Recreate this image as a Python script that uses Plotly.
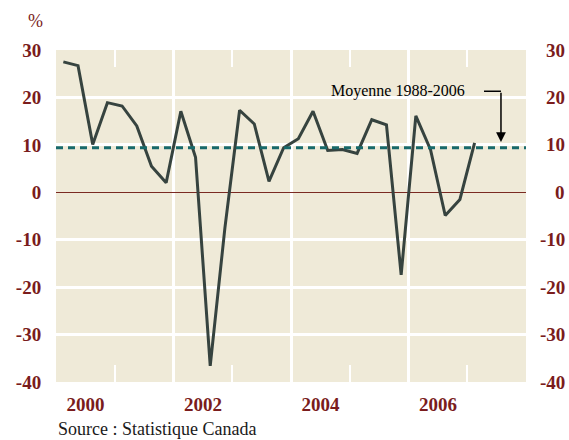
import plotly.graph_objects as go

# ---- data ----
years = [2000]*4 + [2001]*4 + [2002]*4 + [2003]*4 + [2004]*4 + [2005]*4 + [2006]*4 + [2007]
quarters = [1, 2, 3, 4]*7 + [1]
values = [27.5, 26.7, 10.1, 18.9,
          18.2, 14.0, 5.5, 2.0,
          17.1, 7.4, -36.6, -7.5,
          17.3, 14.4, 2.3, 9.4,
          11.3, 17.1, 8.8, 9.0,
          8.2, 15.3, 14.2, -17.4,
          16.1, 9.0, -4.9, -1.5,
          10.4]
mean_value = 9.4
mean_label = "Moyenne 1988-2006"
x_label_years = [2000, 2002, 2004, 2006]
x_grid_years = [2002, 2004, 2006]
x_minor_years = [2001, 2003, 2005, 2007]
y_ticks = [-40, -30, -20, -10, 0, 10, 20, 30]
y_ticktext = ["-40", "-30", "-20", "-10", "0", "10", "20", "30"]
source_text = "Source : Statistique Canada"

x_pos = [y + (q - 0.5) / 4 for y, q in zip(years, quarters)]

RED = "#7a1c1c"
BG = "#efead8"
FONT = "Liberation Serif"
XR = [2000, 2008]
YR = [-40, 30]
W, H = 569, 440
ML, MR, MT, MB = 56, 43, 50, 58
PW, PH = W - ML - MR, H - MT - MB

fig = go.Figure()
# invisible trace to anchor xaxis3 gridlines
fig.add_trace(go.Scatter(x=[None], y=[None], xaxis="x3", yaxis="y",
                         showlegend=False, hoverinfo="skip"))
fig.add_trace(go.Scatter(
    x=XR, y=[mean_value, mean_value], xaxis="x2", yaxis="y",
    mode="lines", line=dict(color="#17696b", width=3, dash="7px,5px"),
    hoverinfo="skip", showlegend=False))
fig.add_trace(go.Scatter(
    x=x_pos, y=values, mode="lines",
    line=dict(color="#36433f", width=3),
    showlegend=False))

tickfont = dict(family=FONT, size=19, color=RED, weight="bold")

fig.update_layout(
    width=W, height=H,
    margin=dict(l=ML, r=MR, t=MT, b=MB, autoexpand=False),
    paper_bgcolor="white", plot_bgcolor=BG,
    font=dict(family=FONT),
    xaxis=dict(range=XR, tickvals=[y + 0.5 for y in x_label_years],
               ticktext=[str(y) for y in x_label_years],
               showgrid=False, zeroline=False, ticks="outside", ticklen=5,
               tickcolor="rgba(0,0,0,0)", tickfont=tickfont, fixedrange=True),
    xaxis2=dict(range=XR, overlaying="x", side="bottom",
                tickvals=x_minor_years, ticks="inside", ticklen=17, tickwidth=2,
                tickcolor="white", mirror="ticks", showticklabels=False,
                showline=False, zeroline=False, showgrid=False),
    xaxis3=dict(range=XR, overlaying="x", side="bottom",
                tickvals=x_grid_years, showticklabels=False, ticks="",
                showgrid=True, gridcolor="white", gridwidth=2.5, zeroline=False),
    yaxis=dict(range=YR, tickvals=y_ticks, ticktext=y_ticktext,
               showgrid=True, gridcolor="white", gridwidth=2.5,
               zeroline=True, zerolinecolor="#7a2a22", zerolinewidth=1.2,
               ticks="outside", ticklen=10, tickcolor="rgba(0,0,0,0)",
               tickfont=tickfont, fixedrange=True),
)

# right-hand tick labels (right-aligned, as in the reference)
for v, t in zip(y_ticks, y_ticktext):
    fig.add_annotation(x=1 + 41 / PW, y=v, xref="paper", yref="y", text=t,
                       showarrow=False, xanchor="right", yanchor="middle",
                       font=tickfont)

# annotation text and elbow arrow
fig.add_annotation(x=2006.99, y=21.3, xref="x", yref="y", text=mean_label,
                   showarrow=False, xanchor="right", yanchor="middle",
                   font=dict(family=FONT, size=16, color="black"))
fig.add_shape(type="line", xref="x", yref="y",
              x0=2007.285, x1=2007.574, y0=21.3, y1=21.3,
              line=dict(color="black", width=1.5))
fig.add_annotation(x=2007.574, y=10.6, ax=2007.574, ay=21.3,
                   xref="x", yref="y", axref="x", ayref="y", text="",
                   showarrow=True, arrowhead=2, arrowsize=1.3, arrowwidth=1.5,
                   arrowcolor="black")

fig.add_annotation(x=-21 / PW, y=(H - MB - 21) / PH, xref="paper", yref="paper",
                   text="%", showarrow=False, xanchor="center", yanchor="middle",
                   font=dict(family=FONT, size=18, color=RED))
fig.add_annotation(x=0, y=(H - MB - 429) / PH, xref="paper", yref="paper",
                   text=source_text, showarrow=False, xanchor="left",
                   yanchor="middle",
                   font=dict(family=FONT, size=18, color="#1a1a1a"))

fig.write_html("out.html",
               config={"displayModeBar": False},
               post_script="document.body.style.margin='0';"
                           "document.body.style.overflow='hidden';")
